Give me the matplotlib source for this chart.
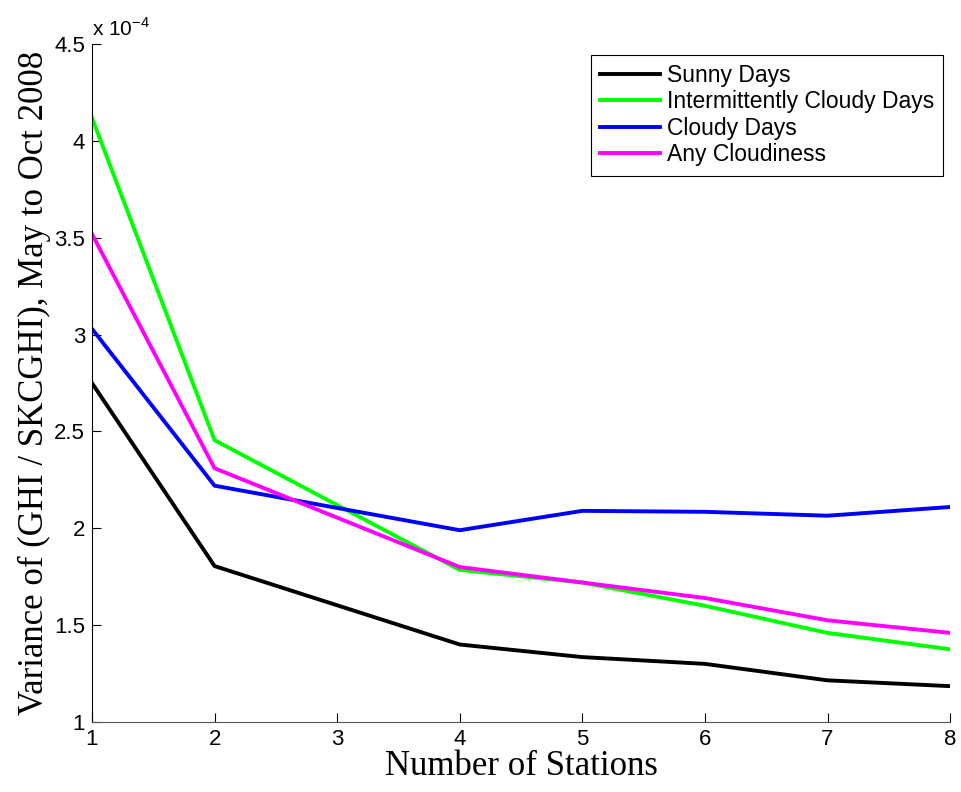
import matplotlib
matplotlib.use('Agg')
import matplotlib.pyplot as plt
from matplotlib.ticker import FuncFormatter

# number of stations used (no 3-station case)
stations = [1, 2, 4, 5, 6, 7, 8]

# variance of GHI / SKCGHI, May to Oct 2008
sunny = [2.75e-4, 1.805e-4, 1.40e-4, 1.335e-4, 1.30e-4, 1.215e-4, 1.185e-4]
intermittent = [4.12e-4, 2.455e-4, 1.785e-4, 1.72e-4, 1.60e-4, 1.46e-4, 1.375e-4]
cloudy = [3.03e-4, 2.22e-4, 1.99e-4, 2.09e-4, 2.085e-4, 2.065e-4, 2.11e-4]
any_cloud = [3.52e-4, 2.31e-4, 1.80e-4, 1.72e-4, 1.64e-4, 1.525e-4, 1.46e-4]

labels = ['Sunny Days', 'Intermittently Cloudy Days', 'Cloudy Days', 'Any Cloudiness']
colors = ['black', '#00ff00', '#0000ff', '#ff00ff']

fig = plt.figure(figsize=(9.61, 7.92), dpi=100)
ax = fig.add_axes([0.0957, 0.0884, 0.893, 0.856])

for ys, lab, c in zip([sunny, intermittent, cloudy, any_cloud], labels, colors):
    ax.plot(stations, ys, color=c, lw=2.8, label=lab)

ax.set_xlim(1, 8)
ax.set_ylim(1e-4, 4.5e-4)
ax.set_xticks(range(1, 9))
ax.set_yticks([1e-4, 1.5e-4, 2e-4, 2.5e-4, 3e-4, 3.5e-4, 4e-4, 4.5e-4])
ax.yaxis.set_major_formatter(FuncFormatter(lambda v, p: '%g' % round(v * 1e4, 3)))

for lbl in ax.get_xticklabels() + ax.get_yticklabels():
    lbl.set_family('Liberation Sans')
ax.tick_params(direction='in', length=6.5, width=0.8, labelsize=16, pad=5)
ax.spines['top'].set_visible(False)
ax.spines['right'].set_visible(False)
ax.spines['bottom'].set_color('#555555')

ax.text(0.0, 1.006, r'x 10$^{\mathregular{-4}}$', transform=ax.transAxes,
        family='Liberation Sans', fontsize=15, ha='left', va='bottom')

ax.set_xlabel('Number of Stations', family='Liberation Serif', fontsize=25, labelpad=0)
ax.set_ylabel('Variance of (GHI / SKCGHI), May to Oct 2008', family='Liberation Serif',
              fontsize=25, labelpad=2)

leg = ax.legend(loc='upper right', bbox_to_anchor=(0.992, 0.984), fancybox=False,
                framealpha=1, edgecolor='black', prop={'family': 'Liberation Sans', 'size': 16.5},
                handlelength=2.6, handletextpad=0.3, labelspacing=0.15, borderpad=0.4,
                borderaxespad=0)
leg.get_frame().set_linewidth(0.8)

fig.savefig('out.png', dpi=100)
